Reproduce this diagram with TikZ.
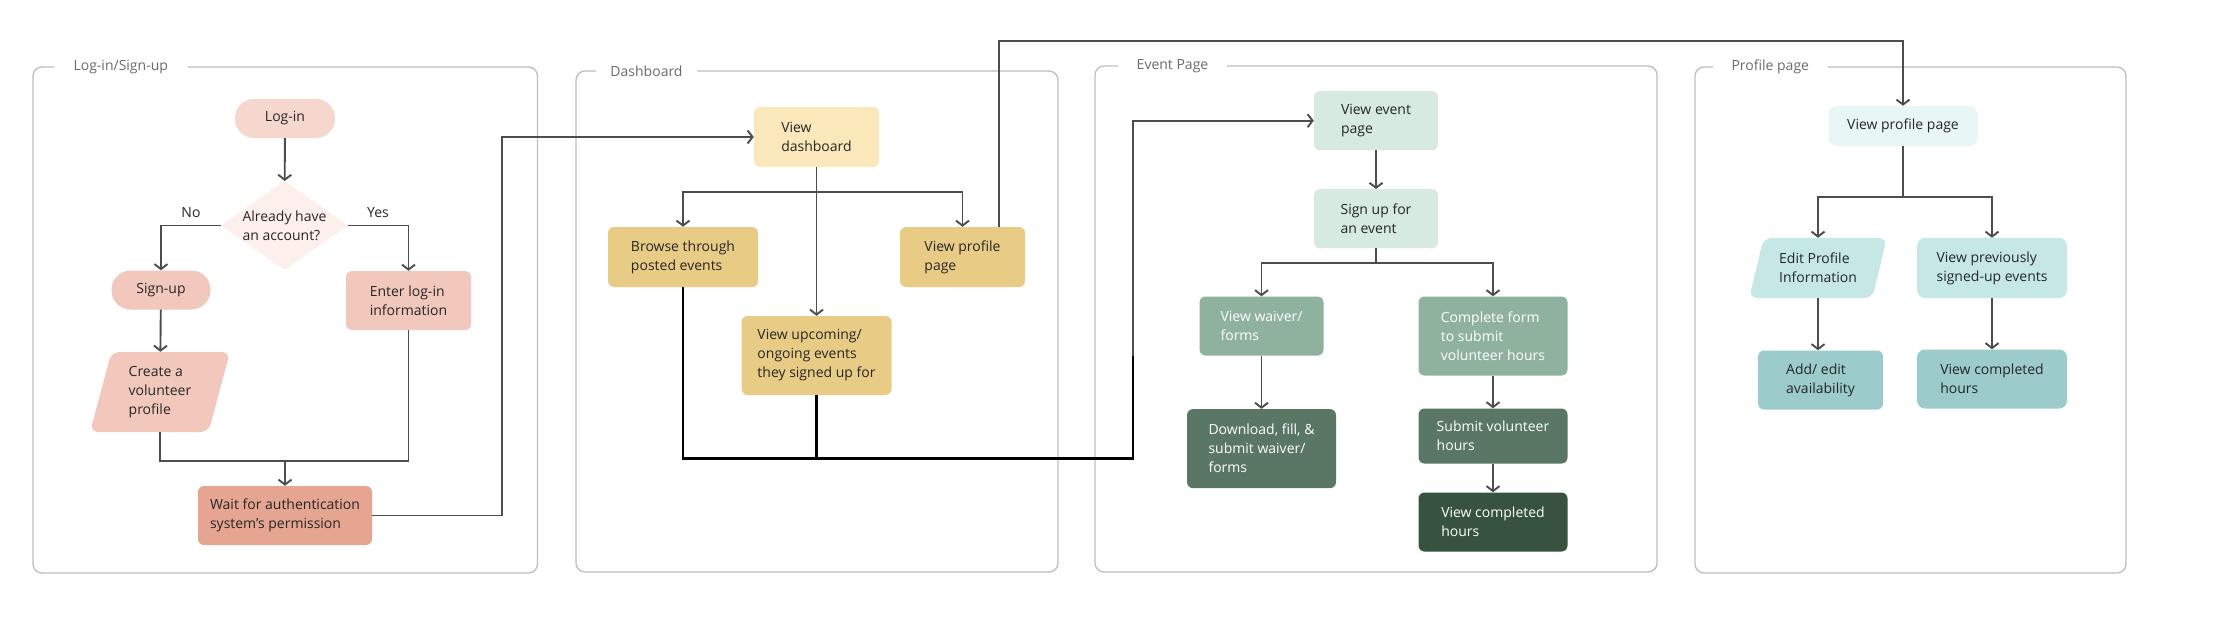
\documentclass[tikz,border=0pt]{standalone}
\usepackage{fontspec}
\setmainfont{Open Sans}
\usetikzlibrary{shapes.geometric, arrows.meta}
\definecolor{FlowInk}{HTML}{262626}
\definecolor{FlowLine}{HTML}{4D4D4D}
\definecolor{FrameGrey}{HTML}{BDBDBD}
\definecolor{TitleGrey}{HTML}{6B6B6B}
\definecolor{LoginPink}{HTML}{F5D7CE}
\definecolor{SignPink}{HTML}{F2C8BC}
\definecolor{AskPink}{HTML}{FDEFEB}
\definecolor{WaitSalmon}{HTML}{E6A591}
\definecolor{DashLight}{HTML}{FAE8BA}
\definecolor{DashGold}{HTML}{E8CC86}
\definecolor{EventMint}{HTML}{D6EADF}
\definecolor{EventSage}{HTML}{8FB29E}
\definecolor{EventMoss}{HTML}{5A7765}
\definecolor{EventPine}{HTML}{37533F}
\definecolor{ProfIce}{HTML}{E9F6F6}
\definecolor{ProfAqua}{HTML}{C5E8E7}
\definecolor{ProfTeal}{HTML}{9BCBCB}

\tikzset{
  box/.style={rectangle, rounded corners=6pt, align=left, text=FlowInk,
    font=\fontsize{14}{19}\selectfont, inner sep=0pt},
  sz/.style 2 args={minimum width=#1pt, minimum height=#2pt},
  pill/.style={box, rounded corners=19pt},
  slanted/.style={box, trapezium, trapezium left angle=75, trapezium right angle=105,
    trapezium stretches=true},
  conn/.style={draw=FlowLine, line width=1.9pt},
  arr/.style={conn, -{Straight Barb[length=5pt,width=13pt]}},
  busline/.style={draw=black, line width=2.3pt},
  frame/.style={draw=FrameGrey, line width=1.3pt, rounded corners=9pt},
  frametitle/.style={text=TitleGrey, font=\fontsize{14}{19}\selectfont, inner sep=0pt},
  branchlabel/.style={text=FlowInk, font=\fontsize{14}{19}\selectfont, inner sep=0pt}
}

\begin{document}
\begin{tikzpicture}[x=1pt, y=-1pt]
  \useasboundingbox[fill=white] (0,0) rectangle (2224,629);

  % section frames with their titles
  \foreach \l/\t/\r/\b/\gl/\gr/\name/\id in {
      33/67/537.5/573/54/187.5/{Log-in/Sign-up}/fa,
      576/71/1058/572/596/697/Dashboard/fb,
      1095/66/1657/572/1118/1227/Event Page/fc,
      1695/67/2126/573/1713/1827.5/Profile page/fd} {
    \draw[frame] (\gr,\t) -- (\r,\t) -- (\r,\b) -- (\l,\b) -- (\l,\t) -- (\gl,\t);
    \node[frametitle] (\id) at ({(\gl+\gr)/2},\t) {\name};
  }

  % log-in / sign-up
  \node[pill, sz={100}{39}, fill=LoginPink] (login) at (285,118.5) {Log-in};
  \node[diamond, sz={127}{89}, inner sep=0pt, fill=AskPink, rounded corners=2pt,
    label={[box]center:Already have\\an account?}] (account) at (284.5,225.5) {};
  \node[pill, sz={99}{39}, fill=SignPink] (signup) at (161,290) {Sign-up};
  \node[box, sz={125}{59}, fill=SignPink] (enterinfo) at (408.5,300.5) {Enter log-in\\information};
  \node[slanted, sz={141}{80}, fill=SignPink, rounded corners=8pt] (createprof) at (160,392) {Create a\\volunteer\\profile};
  \node[box, sz={174}{59}, fill=WaitSalmon] (waitauth) at (285,515.5) {Wait for authentication\\system's permission};
  \node[branchlabel] (nolabel) at (191,213) {No};
  \node[branchlabel] (yeslabel) at (378,213) {Yes};

  % dashboard
  \node[box, sz={125}{60}, fill=DashLight] (viewdash) at (816.5,137) {View\\dashboard};
  \node[box, sz={150}{60}, fill=DashGold] (browse) at (683,257) {Browse through\\posted events};
  \node[box, sz={125}{60}, fill=DashGold] (dprof) at (962.5,257) {View profile\\page};
  \node[box, sz={150}{79}, fill=DashGold] (upcoming) at (816.5,355.5) {View upcoming/\\ongoing events\\they signed up for};

  % event page
  \node[box, sz={124}{59}, fill=EventMint] (evpage) at (1376,120.7) {View event\\page};
  \node[box, sz={124}{59}, fill=EventMint] (evsign) at (1376,218.7) {Sign up for\\an event};
  \node[box, sz={124}{59}, fill=EventSage, text=white] (waiver) at (1261.5,326) {View waiver/\\forms};
  \node[box, sz={149}{79}, fill=EventSage, text=white] (compform) at (1493,336) {Complete form\\to submit\\volunteer hours};
  \node[box, sz={149}{79}, fill=EventMoss, text=white] (download) at (1261.5,448.6) {Download, fill, \&\\submit waiver/\\forms};
  \node[box, sz={149}{55}, fill=EventMoss, text=white] (submithrs) at (1493,436) {Submit volunteer\\hours};
  \node[box, sz={149}{59}, fill=EventPine, text=white] (evdone) at (1493,522) {View completed\\hours};

  % profile page
  \node[box, sz={149}{40}, fill=ProfIce, rounded corners=8pt] (pview) at (1903,126) {View profile page};
  \node[slanted, sz={138.5}{60}, fill=ProfAqua, trapezium left angle=71, trapezium right angle=109, rounded corners=8pt] (pedit) at (1818,268) {Edit Profile\\Information};
  \node[box, sz={150}{60}, fill=ProfAqua, rounded corners=8pt] (pprev) at (1992,268) {View previously\\signed-up events};
  \node[box, sz={125}{59}, fill=ProfTeal] (padd) at (1820.5,380) {Add/ edit\\availability};
  \node[box, sz={150}{59}, fill=ProfTeal, rounded corners=8pt] (pdone) at (1992,379) {View completed\\hours};

  % turning points
  \coordinate (merge) at (285,461);
  \coordinate (dbranch) at (816.5,192);
  \coordinate (dbus) at (1133,458.6);
  \coordinate (evjoin) at (1133,356);
  \coordinate (ebranch) at (1376,263);
  \coordinate (toprail) at (0,41);
  \coordinate (pbranch) at (1903,197);

  % connectors
  \draw[arr] (login) -- (account);
  \draw[arr] (account.west) -| (signup.north);
  \draw[arr] (account.east) -| (enterinfo.north);
  \draw[arr] (signup) -- (createprof);
  \draw[conn] (createprof.south) |- (merge) -| (enterinfo.south);
  \draw[arr] (merge) -- (waitauth.north);
  \draw[arr] (waitauth.east) -- ++(129.5,0) |- (viewdash.west);

  \draw[arr] (viewdash) -- (upcoming);
  \draw[arr] (dbranch) -| (browse.north);
  \draw[arr] (dbranch) -| (dprof.north);
  \draw[busline] (browse.south) |- (dbus) -- (evjoin);
  \draw[busline] (upcoming.south) -- (upcoming.south |- dbus);
  \draw[arr] (evjoin) |- (evpage.west);
  \draw[arr] ([xshift=36.5pt]dprof.north) |- (toprail -| pview.north) -- (pview.north);

  \draw[arr] (evpage) -- (evsign);
  \draw[conn] (evsign.south) -- (ebranch);
  \draw[arr] (ebranch) -| (waiver.north);
  \draw[arr] (ebranch) -| (compform.north);
  \draw[arr] (waiver) -- (download);
  \draw[arr] (compform) -- (submithrs);
  \draw[arr] (submithrs) -- (evdone);

  \draw[conn] (pview.south) -- (pbranch);
  \draw[arr] (pbranch) -| (pedit.north);
  \draw[arr] (pbranch) -| (pprev.north);
  \draw[arr] (pedit.south) -- (pedit.south |- padd.north);
  \draw[arr] (pprev) -- (pdone);
\end{tikzpicture}
\end{document}
